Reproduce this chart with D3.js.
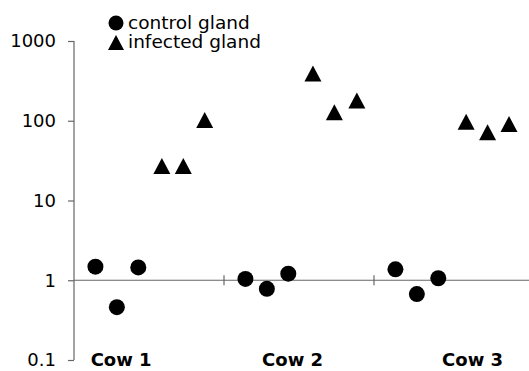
<!DOCTYPE html>
<html>
<head>
<meta charset="utf-8">
<script src="https://cdn.jsdelivr.net/npm/d3@7"></script>
<style>
  body { margin: 0; background: #fff; }
  svg text { font-family: "DejaVu Sans", Verdana, sans-serif; fill: #000; }
  .tickLabel { font-size: 18px; }
  .cowLabel { font-size: 18px; font-weight: bold; }
  .legendText { font-size: 18.5px; }
  .axisLine { stroke: #666; stroke-width: 1.2; }
</style>
</head>
<body>
<div id="chart"></div>
<script>
// values
var categories = ["Cow 1", "Cow 2", "Cow 3"];
var categoryLabelX = [2.2, 10.2, 18.6];
var categoryBreaks = [7, 14];

var controlX = [1, 2, 3, 8, 9, 10, 15, 16, 17];
var controlValues = [1.48, 0.46, 1.45, 1.04, 0.78, 1.21, 1.37, 0.67, 1.06];

var infectedX = [4.1, 5.1, 6.1, 11.15, 12.15, 13.2, 18.3, 19.3, 20.3];
var infectedValues = [27, 27, 102, 390, 128, 180, 97, 72, 91];

var yTicks = [0.1, 1, 10, 100, 1000];
var legendLabels = ["control gland", "infected gland"];

var width = 529, height = 371;

var svg = d3.select("#chart").append("svg")
    .attr("width", width)
    .attr("height", height);

var x = d3.scaleLinear().domain([0, 21]).range([74, 524]);
var y = d3.scaleLog().domain([0.1, 1000]).range([360, 41]);

// triangle marker centred on its bounding box
function triangle(cx, cy, w, h) {
    return "M" + cx + "," + (cy - h / 2) +
        "L" + (cx + w / 2) + "," + (cy + h / 2) +
        "L" + (cx - w / 2) + "," + (cy + h / 2) + "Z";
}

//y axis
var yAxis = d3.axisLeft(y)
    .tickValues(yTicks)
    .tickSize(6)
    .tickPadding(12)
    .tickFormat(function(d) { return d < 1 ? d3.format(".1f")(d) : d3.format("d")(d); });

var gy = svg.append("g")
    .attr("transform", "translate(" + x(0) + ",0)")
    .call(yAxis);
gy.select(".domain").attr("stroke", "#666").attr("stroke-width", 1.2).attr("d", "M0," + y(1000) + "V" + y(0.1));
gy.selectAll(".tick line").attr("stroke", "#666").attr("stroke-width", 1.2);
gy.selectAll(".tick text")
    .attr("class", "tickLabel")
    .attr("font-family", null)
    .attr("font-size", null)
    .attr("fill", "#000");

//horizontal line at 1 with category separators
svg.append("line")
    .attr("class", "axisLine")
    .attr("x1", x(0))
    .attr("x2", width)
    .attr("y1", y(1))
    .attr("y2", y(1));

svg.selectAll(".catTick")
    .data(categoryBreaks)
    .enter()
    .append("line")
    .attr("class", "axisLine catTick")
    .attr("x1", function(d) { return x(d); })
    .attr("x2", function(d) { return x(d); })
    .attr("y1", y(1) - 5)
    .attr("y2", y(1) + 5);

svg.selectAll(".cowLabel")
    .data(categories)
    .enter()
    .append("text")
    .attr("class", "cowLabel")
    .attr("x", function(d, i) { return x(categoryLabelX[i]); })
    .attr("y", 366)
    .attr("text-anchor", "middle")
    .text(function(d) { return d; });

//control points
svg.append("g")
    .selectAll("circle")
    .data(controlValues)
    .enter()
    .append("circle")
    .attr("cx", function(d, i) { return x(controlX[i]); })
    .attr("cy", function(d) { return y(d); })
    .attr("r", 8)
    .attr("fill", "#000");

//infected points
svg.append("g")
    .selectAll("path")
    .data(infectedValues)
    .enter()
    .append("path")
    .attr("d", function(d, i) { return triangle(x(infectedX[i]), y(d), 17, 16); })
    .attr("fill", "#000");

//legend
svg.append("circle")
    .attr("cx", 116)
    .attr("cy", 23)
    .attr("r", 7.5)
    .attr("fill", "#000");
svg.append("path")
    .attr("d", triangle(116, 42.5, 16, 15))
    .attr("fill", "#000");
svg.selectAll(".legendText")
    .data(legendLabels)
    .enter()
    .append("text")
    .attr("class", "legendText")
    .attr("x", 128)
    .attr("y", function(d, i) { return 29 + i * 19; })
    .text(function(d) { return d; });
</script>
</body>
</html>
